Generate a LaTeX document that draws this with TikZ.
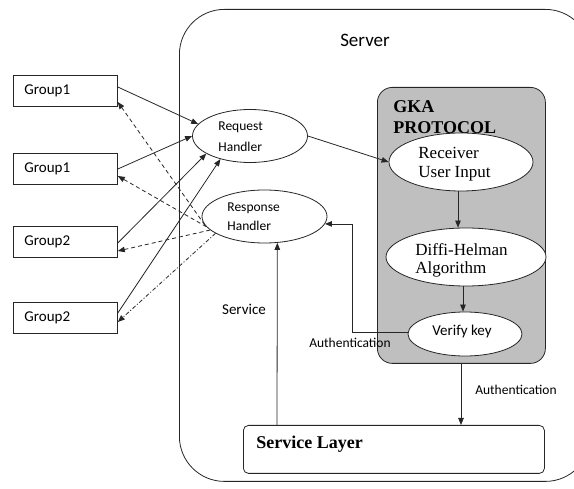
\documentclass[tikz,border=0pt]{standalone}
\usepackage{fontspec}
\setmainfont{Carlito}
\newfontfamily\tnr{Liberation Serif}
\usetikzlibrary{arrows.meta,shapes.geometric}
\begin{document}
\begin{tikzpicture}[x=1pt,y=1pt,
  line width=0.8pt, draw=black!85,
  tip/.style={-{Triangle[length=7pt,width=5.5pt]}},
  grp/.style={draw, rectangle, minimum height=31pt, text width=82pt, inner xsep=11pt, inner ysep=0pt, align=left, font=\fontsize{15}{18}\selectfont, anchor=west},
  ell/.style={draw, ellipse, inner sep=0pt, fill=white},
  lbl/.style={font=\fontsize{13.5}{16}\selectfont, inner sep=0pt},
  ser/.style={inner sep=0pt, align=left, anchor=base west},
  dsh/.style={dash pattern=on 4pt off 3pt},
  dshdot/.style={dash pattern=on 4pt off 2pt on 1pt off 2pt},
]
\useasboundingbox (0,0) rectangle (574,-489);
\clip (0,0) rectangle (574,-489);

% server frame
\node[draw, rectangle, rounded corners=45pt, minimum width=411pt, minimum height=472pt, inner sep=0pt, anchor=north west] (server) at (179,-9) {};
\node[font=\fontsize{19}{22}\selectfont, inner sep=0pt] (servert) at (365,-40) {Server};

% GKA box
\node[draw, fill=black!25, rounded corners=15pt, minimum width=168pt, minimum height=276pt, inner sep=0pt, anchor=north west] (gka) at (377,-87) {};
\node[ser, font=\tnr\bfseries\fontsize{18}{21}\selectfont] (gkat) at (393,-134) {GKA\\PROTOCOL};

% ellipses
\node[ell, minimum width=115pt, minimum height=53pt] (rq) at (250,-136) {};
\node[ser, font=\fontsize{13.5}{21}\selectfont] (rqt) at (218,-152) {Request\\Handler};
\node[ell, minimum width=125pt, minimum height=53pt] (rsp) at (264.5,-216.5) {};
\node[ser, font=\fontsize{13.5}{19}\selectfont] (rspt) at (227,-231) {Response\\Handler};

\node[ell, minimum width=144pt, minimum height=58pt] (rui) at (461,-162) {};
\node[ser, font=\tnr\fontsize{17}{19}\selectfont] (ruit) at (418,-178) {Receiver\\User Input};
\node[ell, minimum width=160pt, minimum height=58pt] (dh) at (466,-257) {};
\node[ser, font=\tnr\fontsize{17}{18}\selectfont] (dht) at (415,-274) {Diffi-Helman\\Algorithm};
\node[ell, minimum width=114pt, minimum height=44pt] (vk) at (465,-334) {};
\node[font=\fontsize{15}{18}\selectfont, inner sep=0pt, anchor=base] (vkt) at (462,-336) {Verify key};

% service layer
\node[draw, rectangle, rounded corners=5pt, minimum width=301pt, minimum height=48pt, inner sep=0pt, anchor=north west] (sl) at (243,-425) {};
\node[font=\tnr\bfseries\fontsize{18}{21}\selectfont, inner sep=0pt, anchor=base west] (slt) at (256,-449) {Service Layer};

% groups
\node[grp] (g1) at (13,-91) {Group1};
\node[grp] (g2) at (13,-169) {Group1};
\node[grp] (g3) at (13,-242) {Group2};
\node[grp] (g4) at (13,-318) {Group2};

% labels
\node[font=\fontsize{15}{18}\selectfont, inner sep=0pt] (svcl) at (244,-309) {Service};
\node[lbl] (auth1) at (350,-343) {Authentication};
\node[lbl] (auth2) at (516,-390) {Authentication};

% solid arrows groups -> request handler
\draw[tip] ([yshift=4pt]g1.east) -- (rq.167);
\draw[tip] (g2.east) -- (rq.180);
\draw[tip] ([yshift=-1pt]g3.east) -- (rq.202);
\draw[tip] ([yshift=5pt]g4.east) -- (rq.218);

% dashed arrows response handler -> groups
\draw[tip, dsh] (rsp.188) -- ([yshift=-11pt]g1.east);
\draw[tip, dsh] (rsp.190) -- ([yshift=-7pt]g2.east);
\draw[tip, dsh] (rsp.194) -- ([yshift=-9pt]g3.east);
\draw[tip, dshdot] (rsp.199) -- ([yshift=-4pt]g4.east);

% protocol flow
\draw[tip] (rq.east) -- (rui.west);
\draw[tip] ([xshift=-3pt]rui.south) -- ([xshift=-3pt]rui.south |- dh.north);
\draw[tip] ([xshift=-3pt]dh.south) -- ([xshift=-3pt]dh.south |- vk.north);
\coordinate (bend) at (352,-332);
\draw[tip] (vk.west |- bend) -- (bend) |- (rsp.-7);
\draw[tip] (sl.north -| 277,0) -- (rsp.-64.6);
\draw[tip] (gka.south -| 461,0) -- (sl.north -| 461,0);
\end{tikzpicture}
\end{document}
